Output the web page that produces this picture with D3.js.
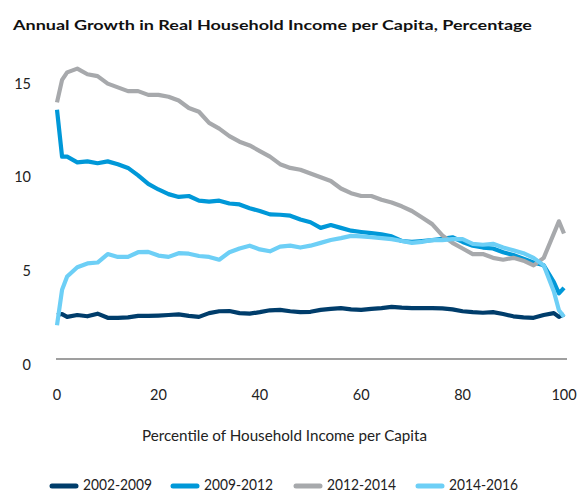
<!DOCTYPE html>
<html>
<head>
<meta charset="utf-8">
<script src="https://cdn.jsdelivr.net/npm/d3@7"></script>
<style>
  html, body { margin: 0; padding: 0; background: #fff; }
  svg { display: block; font-family: Lato, "Noto Sans", sans-serif; }
</style>
</head>
<body>
<svg id="chart" width="577" height="493"></svg>
<script>
const percentiles = [0,1,2,4,6,8,10,12,14,16,18,20,22,24,26,28,30,32,34,36,38,40,42,44,46,48,50,52,54,56,58,60,62,64,66,68,70,72,74,76,78,80,82,84,86,88,90,92,94,96,98,99,100];

const s2002_2009 = [2.35,2.4,2.25,2.35,2.28,2.42,2.2,2.2,2.22,2.3,2.3,2.32,2.35,2.38,2.3,2.25,2.45,2.55,2.56,2.45,2.42,2.5,2.6,2.62,2.55,2.5,2.52,2.62,2.68,2.72,2.65,2.62,2.68,2.72,2.78,2.74,2.72,2.72,2.72,2.7,2.65,2.55,2.5,2.47,2.5,2.4,2.28,2.22,2.2,2.35,2.45,2.25,2.38];

const s2009_2012 = [13.3,10.8,10.8,10.5,10.55,10.45,10.55,10.4,10.2,9.8,9.35,9.05,8.8,8.65,8.7,8.45,8.4,8.45,8.3,8.25,8.05,7.9,7.72,7.7,7.65,7.45,7.3,7.0,7.15,7.0,6.85,6.78,6.72,6.65,6.55,6.3,6.25,6.3,6.35,6.42,6.5,6.25,6.05,5.95,5.9,5.7,5.55,5.35,5.15,5.0,4.1,3.5,3.8];

const s2012_2014 = [13.7,14.9,15.3,15.5,15.2,15.1,14.7,14.5,14.3,14.3,14.1,14.1,14.0,13.8,13.4,13.2,12.6,12.3,11.9,11.6,11.4,11.1,10.8,10.4,10.2,10.1,9.9,9.7,9.5,9.1,8.85,8.7,8.7,8.5,8.35,8.15,7.9,7.55,7.2,6.6,6.2,5.9,5.6,5.6,5.4,5.3,5.4,5.25,5.0,5.4,6.7,7.35,6.7];

const s2014_2016 = [1.8,3.7,4.4,4.9,5.1,5.15,5.6,5.45,5.45,5.7,5.72,5.52,5.45,5.65,5.62,5.5,5.45,5.3,5.7,5.9,6.05,5.85,5.75,6.0,6.05,5.95,6.05,6.2,6.35,6.45,6.57,6.55,6.5,6.45,6.4,6.3,6.2,6.25,6.35,6.35,6.4,6.4,6.15,6.1,6.15,5.95,5.8,5.65,5.4,5.0,3.6,2.6,2.25];

const seriesNames = ["2002-2009","2009-2012","2012-2014","2014-2016"];
const seriesValues = [s2002_2009, s2009_2012, s2012_2014, s2014_2016];
const seriesColors = ["#003d6b","#0098d8","#a7a9ac","#6dcff6"];

const yTicks = [0,5,10,15];
const xTicks = [0,20,40,60,80,100];

const titleText = "Annual Growth in Real Household Income per Capita, Percentage";
const xTitleText = "Percentile of Household Income per Capita";

const svg = d3.select("#chart");

const x = d3.scaleLinear().domain([0,100]).range([57,564]);
const y = d3.scaleLinear().domain([0,15]).range([359,78]);

// Title
svg.append("text")
  .attr("x", 13).attr("y", 30)
  .attr("font-size", 14).attr("font-weight", 700).attr("fill", "#111")
  .attr("textLength", 519).attr("lengthAdjust", "spacingAndGlyphs")
  .text(titleText);

// Y tick labels
svg.append("g").selectAll("text").data(yTicks).join("text")
  .attr("x", 31).attr("y", d => y(d) + 7)
  .attr("text-anchor", "end").attr("dominant-baseline", "middle")
  .attr("font-size", 14.5).attr("fill", "#222")
  .text(d => d);

// X axis baseline
svg.append("line")
  .attr("x1", x(0) - 1).attr("x2", x(100) + 3)
  .attr("y1", y(0)).attr("y2", y(0))
  .attr("stroke", "#7f7f7f").attr("stroke-width", 1.5);

// X tick labels
svg.append("g").selectAll("text").data(xTicks).join("text")
  .attr("x", d => x(d)).attr("y", 396)
  .attr("text-anchor", "middle").attr("dominant-baseline", "middle")
  .attr("font-size", 14.5).attr("fill", "#222")
  .text(d => d);

// X axis title
svg.append("text")
  .attr("x", 142).attr("y", 441)
  .attr("font-size", 15).attr("fill", "#222")
  .attr("textLength", 285).attr("lengthAdjust", "spacingAndGlyphs")
  .text(xTitleText);

// Lines
const line = d3.line()
  .x((d, i) => x(percentiles[i]))
  .y(d => y(d));

svg.append("g").selectAll("path").data(seriesValues).join("path")
  .attr("d", d => line(d))
  .attr("fill", "none")
  .attr("stroke", (d, i) => seriesColors[i])
  .attr("stroke-width", 4.2)
  .attr("stroke-linejoin", "round")
  .attr("stroke-linecap", "butt");

// Legend
const legendX = [52, 173, 296, 418];
const lg = svg.append("g").selectAll("g").data(seriesNames).join("g")
  .attr("transform", (d, i) => `translate(${legendX[i]},486)`);
lg.append("line")
  .attr("x1", 0).attr("x2", 24).attr("y1", 0).attr("y2", 0)
  .attr("stroke", (d, i) => seriesColors[i])
  .attr("stroke-width", 5).attr("stroke-linecap", "round");
lg.append("text")
  .attr("x", 31).attr("y", 0)
  .attr("dominant-baseline", "middle")
  .attr("font-size", 15).attr("fill", "#222")
  .attr("textLength", 69).attr("lengthAdjust", "spacingAndGlyphs")
  .text(d => d);
</script>
</body>
</html>
